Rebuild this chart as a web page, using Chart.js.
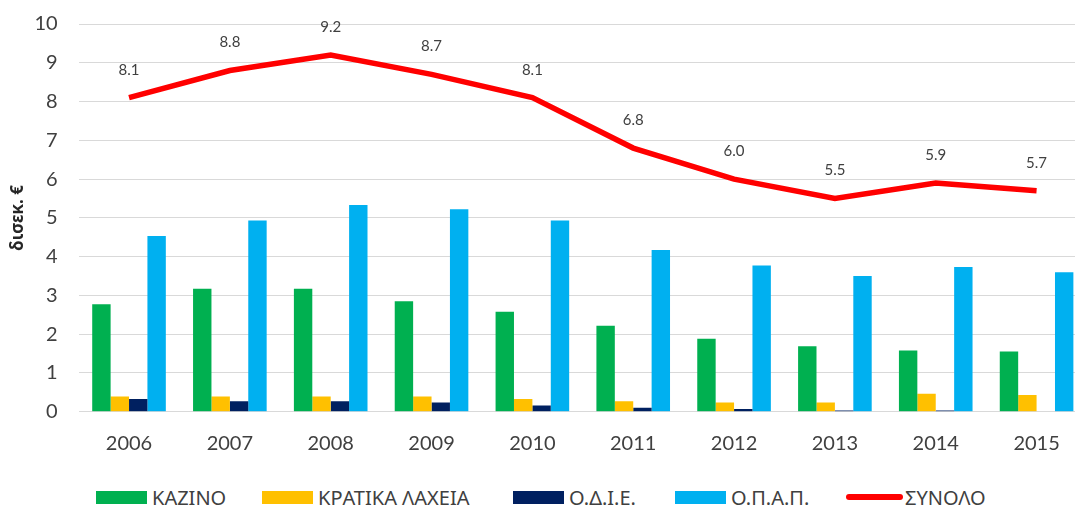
<!DOCTYPE html>
<html lang="el">
<head>
<meta charset="UTF-8">
<title>Ακαθάριστα έσοδα τυχερών παιγνίων</title>
<script src="https://cdn.jsdelivr.net/npm/chart.js"></script>
<style>
    html, body { margin: 0; padding: 0; background: #fff; overflow: hidden; width: 1075px; height: 505px; }
    .wrap { position: relative; width: 1087px; height: 470px; }
    .legend { position: absolute; left: 0; top: 485px; width: 1075px; height: 24px; font-family: "Noto Sans", sans-serif; font-size: 20px; color: #404040; }
    .legend .item { position: absolute; top: 0; display: flex; align-items: center; height: 24px; white-space: nowrap; }
    .legend .box { width: 51px; height: 13px; margin-right: 5px; }
    .legend .line { width: 57px; height: 6px; border-radius: 3px; margin-right: 2px; }
</style>
</head>
<body>
<div class="wrap"><canvas id="chart" width="1087" height="470"></canvas></div>
<div class="legend" id="legend"></div>
<script>
const years = ['2006', '2007', '2008', '2009', '2010', '2011', '2012', '2013', '2014', '2015'];
const kazino = [2.77, 3.17, 3.17, 2.85, 2.58, 2.22, 1.88, 1.69, 1.58, 1.55];
const kratikaLaxeia = [0.39, 0.39, 0.39, 0.39, 0.33, 0.27, 0.24, 0.24, 0.46, 0.43];
const odie = [0.33, 0.27, 0.27, 0.24, 0.16, 0.10, 0.07, 0.03, 0.03, 0.0];
const opap = [4.53, 4.93, 5.33, 5.22, 4.93, 4.17, 3.77, 3.50, 3.73, 3.60];
const synolo = [8.1, 8.8, 9.2, 8.7, 8.1, 6.8, 6.0, 5.5, 5.9, 5.7];
const yTicks = [0, 1, 2, 3, 4, 5, 6, 7, 8, 9, 10];

const seriesNames = ['ΚΑΖΙΝΟ', 'ΚΡΑΤΙΚΑ ΛΑΧΕΙΑ', 'Ο.Δ.Ι.Ε.', 'Ο.Π.Α.Π.', 'ΣΥΝΟΛΟ'];
const seriesColors = ['#00b050', '#ffc000', '#002060', '#00b0f0', '#ff0000'];
const legendX = [96, 262, 513, 675, 846];

// labels above the total line
const lineLabels = {
    id: 'lineLabels',
    afterDatasetsDraw(chart) {
        const ctx = chart.ctx;
        const meta = chart.getDatasetMeta(4);
        ctx.save();
        ctx.font = '15px Lato, "Noto Sans", sans-serif';
        ctx.fillStyle = '#404040';
        ctx.textAlign = 'center';
        ctx.textBaseline = 'middle';
        meta.data.forEach((pt, i) => {
            ctx.fillText(synolo[i].toFixed(1), pt.x, pt.y - 28);
        });
        ctx.restore();
    }
};

const barSets = [kazino, kratikaLaxeia, odie, opap].map((d, i) => ({
    type: 'bar',
    label: seriesNames[i],
    data: d,
    backgroundColor: seriesColors[i],
    categoryPercentage: 0.73,
    barPercentage: 1.0,
    order: 2
}));

new Chart(document.getElementById('chart'), {
    data: {
        labels: years,
        datasets: [...barSets, {
            type: 'line',
            label: seriesNames[4],
            data: synolo,
            borderColor: seriesColors[4],
            backgroundColor: seriesColors[4],
            borderWidth: 5.5,
            pointRadius: 0,
            tension: 0,
            order: 1
        }]
    },
    options: {
        responsive: false,
        animation: false,
        layout: { padding: { top: 24, right: 0, bottom: 0, left: 0 } },
        plugins: { legend: { display: false }, tooltip: { enabled: false } },
        scales: {
            x: {
                grid: { display: false, drawTicks: false },
                border: { display: false },
                ticks: { padding: 20, color: '#404040', font: { family: 'Lato, "Noto Sans", sans-serif', size: 20 } },
                afterFit(scale) { scale.height = 58.3; }
            },
            y: {
                min: 0, max: 10,
                afterBuildTicks(scale) { scale.ticks = yTicks.map(v => ({ value: v })); },
                grid: { color: '#d9d9d9', lineWidth: 1, drawTicks: false },
                border: { display: false },
                ticks: { padding: 21, color: '#404040', font: { family: 'Lato, "Noto Sans", sans-serif', size: 20 } },
                title: { display: true, text: 'δισεκ. €', color: '#262626', padding: { top: 8, bottom: 0 }, font: { family: '"Noto Sans", sans-serif', size: 17, weight: 'bold' } },
                afterFit(scale) {
                    scale.width = 78.6;
                    scale.paddingTop = 0;
                    scale.paddingBottom = 0;
                }
            }
        }
    },
    plugins: [lineLabels]
});

// legend
const legend = document.getElementById('legend');
seriesNames.forEach((name, i) => {
    const item = document.createElement('div');
    item.className = 'item';
    item.style.left = legendX[i] + 'px';
    const sw = document.createElement('span');
    sw.className = i === 4 ? 'line' : 'box';
    sw.style.background = seriesColors[i];
    const txt = document.createElement('span');
    txt.textContent = name;
    item.appendChild(sw);
    item.appendChild(txt);
    legend.appendChild(item);
});
</script>
</body>
</html>
